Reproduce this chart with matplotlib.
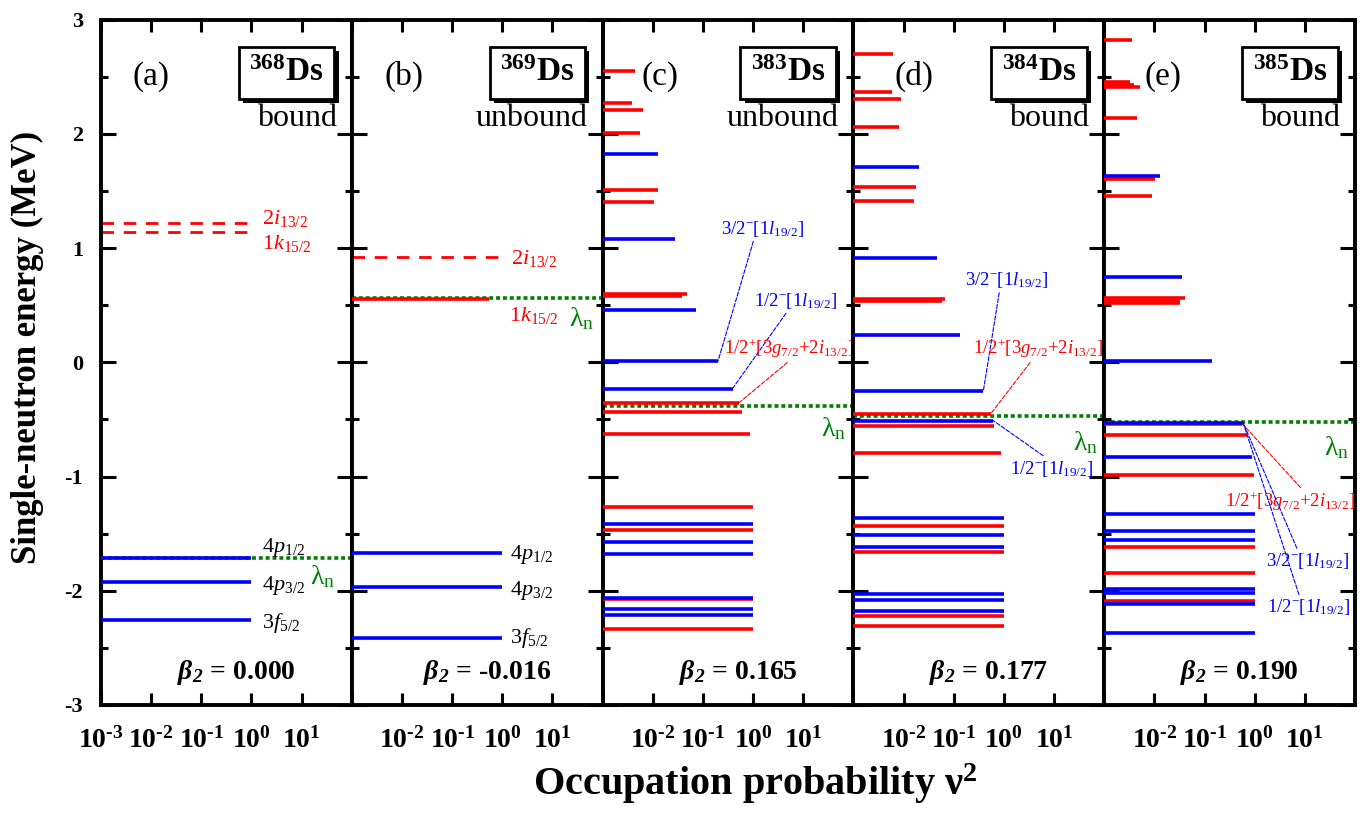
import numpy as np
import matplotlib
matplotlib.use('Agg')
import matplotlib.pyplot as plt
import matplotlib.patheffects as pe
from matplotlib.ticker import MultipleLocator, NullLocator

plt.rcParams['font.family'] = 'Liberation Serif'
plt.rcParams['mathtext.fontset'] = 'custom'
plt.rcParams['mathtext.rm'] = 'Liberation Serif'
plt.rcParams['mathtext.it'] = 'Liberation Serif:italic'
plt.rcParams['mathtext.bf'] = 'Liberation Serif:bold'
plt.rcParams['mathtext.bfit'] = 'Liberation Serif:bold:italic'

# panel info
panel_tags = ['(a)', '(b)', '(c)', '(d)', '(e)']
mass_nums = ['368', '369', '383', '384', '385']
status = ['bound', 'unbound', 'unbound', 'bound', 'bound']
beta2 = ['0.000', '-0.016', '0.165', '0.177', '0.190']
lambda_n = [-1.71, 0.56, -0.38, -0.47, -0.52]

# single-neutron levels: energy (MeV) and occupation v^2
# (a) 368Ds
a_dash_E = [1.22, 1.14]
a_dash_v2 = [1.0, 1.0]
a_red_E = []
a_red_v2 = []
a_blue_E = [-1.71, -1.92, -2.26]
a_blue_v2 = [1.0, 1.0, 1.0]
# (b) 369Ds
b_dash_E = [0.92]
b_dash_v2 = [1.0]
b_red_E = [0.55]
b_red_v2 = [0.55]
b_blue_E = [-1.67, -1.97, -2.41]
b_blue_v2 = [1.0, 1.0, 1.0]
# (c) 383Ds
c_red_E = [2.55, 2.265, 2.207, 2.003, 1.512, 1.40, 0.60, 0.58, -0.353, -0.438, -0.625,
           -1.267, -1.468, -2.075, -2.335]
c_red_v2 = [0.0044, 0.0039, 0.0065, 0.0055, 0.0128, 0.0108, 0.049, 0.039, 0.53, 0.61, 0.86,
            1.0, 1.0, 1.0, 1.0]
c_blue_E = [1.827, 1.08, 0.46, 0.01, -0.23, -1.418, -1.57, -1.68, -2.06, -2.16, -2.21]
c_blue_v2 = [0.0126, 0.0275, 0.074, 0.20, 0.39, 1.0, 1.0, 1.0, 1.0, 1.0, 1.0]
# (d) 384Ds
d_red_E = [2.70, 2.367, 2.30, 2.06, 1.535, 1.41, 0.55, 0.535, -0.45, -0.555, -0.79,
           -1.433, -1.664, -2.22, -2.31]
d_red_v2 = [0.0062, 0.0058, 0.009, 0.008, 0.018, 0.016, 0.066, 0.059, 0.55, 0.65, 0.89,
            1.0, 1.0, 1.0, 1.0]
d_blue_E = [1.71, 0.91, 0.24, -0.25, -0.51, -1.366, -1.515, -1.614, -2.03, -2.084, -2.175]
d_blue_v2 = [0.020, 0.047, 0.135, 0.39, 0.61, 1.0, 1.0, 1.0, 1.0, 1.0, 1.0]
# (e) 385Ds
e_red_E = [2.82, 2.45, 2.43, 2.41, 2.14, 1.605, 1.455, 0.56, 0.54, 0.52, -0.54, -0.64,
           -0.983, -1.614, -1.848, -2.09]
e_red_v2 = [0.0036, 0.0033, 0.0040, 0.0051, 0.0045, 0.0105, 0.009, 0.041, 0.033, 0.033,
            0.57, 0.71, 0.97, 1.0, 1.0, 1.0]
e_blue_E = [1.63, 0.75, 0.01, -0.53, -0.83, -1.33, -1.474, -1.559, -1.988, -2.02, -2.12, -2.37]
e_blue_v2 = [0.013, 0.035, 0.14, 0.59, 0.89, 1.0, 1.0, 1.0, 1.0, 1.0, 1.0, 1.0]

dash_sets = [(a_dash_E, a_dash_v2), (b_dash_E, b_dash_v2), ([], []), ([], []), ([], [])]
red_sets = [(a_red_E, a_red_v2), (b_red_E, b_red_v2), (c_red_E, c_red_v2),
            (d_red_E, d_red_v2), (e_red_E, e_red_v2)]
blue_sets = [(a_blue_E, a_blue_v2), (b_blue_E, b_blue_v2), (c_blue_E, c_blue_v2),
             (d_blue_E, d_blue_v2), (e_blue_E, e_blue_v2)]

# spherical labels for (a) and (b): panel, text, colour, x, y
sph_panel = [0, 0, 0, 0, 0, 1, 1, 1, 1, 1]
sph_text = [r'$2i_{13/2}$', r'$1k_{15/2}$', r'$4p_{1/2}$', r'$4p_{3/2}$', r'$3f_{5/2}$',
            r'$2i_{13/2}$', r'$1k_{15/2}$', r'$4p_{1/2}$', r'$4p_{3/2}$', r'$3f_{5/2}$']
sph_color = ['red', 'red', 'black', 'black', 'black', 'red', 'red', 'black', 'black', 'black']
sph_x = [1.6, 1.6, 1.6, 1.6, 1.6, 1.5, 1.35, 1.4, 1.4, 1.4]
sph_y = [1.26, 1.04, -1.62, -1.95, -2.28, 0.91, 0.41, -1.68, -2.0, -2.41]

# Nilsson labels with leader lines
NIL_P = r'$1/2^{+}[3g_{7/2}{+}2i_{13/2}]$'
NIL_3M = r'$3/2^{-}[1l_{19/2}]$'
NIL_1M = r'$1/2^{-}[1l_{19/2}]$'
ann_panel = [2, 2, 2, 3, 3, 3, 4, 4, 4]
ann_text = [NIL_3M, NIL_1M, NIL_P, NIL_3M, NIL_P, NIL_1M, NIL_P, NIL_3M, NIL_1M]
ann_color = ['blue', 'blue', 'red', 'blue', 'red', 'blue', 'red', 'blue', 'blue']
ann_E = [0.01, -0.23, -0.353, -0.25, -0.45, -0.51, -0.54, -0.53, -0.53]
ann_v2 = [0.20, 0.39, 0.53, 0.39, 0.55, 0.61, 0.57, 0.59, 0.59]
ann_x = [1.54, 7.0, 5.3, 1.12, 4.84, 8.8, 5.07, 11.6, 12.1]
ann_y = [1.17, 0.54, 0.12, 0.72, 0.12, -0.93, -1.22, -1.74, -2.145]
ann_rel = [(0.4, 0.0), (0.41, 0.0), (0.53, 0.1), (0.42, 0.0), (0.48, 0.2), (0.45, 1.0),
           (0.6, 1.0), (0.38, 1.0), (0.39, 1.0)]

lam_lab_x = [26.4, 38.0, 39.8, 43.0, 43.0]
lam_lab_y = [-1.88, 0.38, -0.58, -0.70, -0.75]
tag_x = [0.2, 0.21, 0.23, 0.24, 0.235]

HY = '\u2010'
xticks = [1e-3, 1e-2, 1e-1, 1e0, 1e1]
xlabels = [r'$\mathbf{10^{%s3}}$' % HY, r'$\mathbf{10^{%s2}}$' % HY, r'$\mathbf{10^{%s1}}$' % HY,
           r'$\mathbf{10^{0}}$', r'$\mathbf{10^{1}}$']

W, H = 1363, 823
fig = plt.figure(figsize=(W / 100, H / 100), dpi=100)
left, pw = 101, 250.8
top, bot = 19.5, 705

RED, BLUE, GREEN = '#ff0000', '#0000ff', '#008000'

axes = []
for i in range(5):
    ax = fig.add_axes([(left + i * pw) / W, 1 - bot / H, pw / W, (bot - top) / H])
    axes.append(ax)
    ax.set_xscale('log')
    ax.set_xlim(1e-3, 1e2)
    ax.set_ylim(-3, 3)

    # Fermi level
    ax.axhline(lambda_n[i], color=GREEN, ls=(0, (1.1, 0.8)), lw=2.6, zorder=1)

    dE, dv = dash_sets[i]
    if dE:
        ax.hlines(dE, 1e-3, dv, colors=RED, linestyles=(0, (4.5, 3.5)), lw=2.0, zorder=2)
    rE, rv = red_sets[i]
    if rE:
        ax.hlines(rE, 1e-3, rv, colors=RED, lw=2.6, zorder=3)
    bE, bv = blue_sets[i]
    ax.hlines(bE, 1e-3, bv, colors=BLUE, lw=2.6, zorder=3)

    ax.text(lam_lab_x[i], lam_lab_y[i], r'$\mathrm{\lambda_n}$', color=GREEN, fontsize=20,
            ha='center', va='center')

    ax.text(tag_x[i], 0.917, panel_tags[i], transform=ax.transAxes, fontsize=24,
            ha='center', va='center')
    t = ax.text(0.74, 0.922, r'$\mathbf{^{%s}Ds}$' % mass_nums[i], transform=ax.transAxes,
                fontsize=24, ha='center', va='center',
                bbox=dict(boxstyle='square,pad=0.32', fc='white', ec='black', lw=2.0))
    t.get_bbox_patch().set_path_effects([
        pe.SimplePatchShadow(offset=(3, -3), shadow_rgbFace='black', alpha=1.0),
        pe.Normal()])
    ax.text(0.94, 0.855, status[i], transform=ax.transAxes, fontsize=23,
            ha='right', va='center')
    ax.text(0.54, 0.048, r'$\mathbfit{\beta}_{\mathbfit{2}}$' + ' = ' + beta2[i],
            transform=ax.transAxes, fontsize=20, fontweight='bold', ha='center', va='center')

    # ticks
    ax.set_xticks(xticks)
    ax.set_xticklabels(xlabels if i == 0 else [''] + xlabels[1:])
    ax.xaxis.set_minor_locator(NullLocator())
    ax.yaxis.set_major_locator(MultipleLocator(1))
    ax.yaxis.set_minor_locator(MultipleLocator(0.5))
    ax.tick_params(axis='x', which='major', direction='in', top=True, bottom=True,
                   length=8.6, width=2.2, labelsize=20, pad=16)
    ax.tick_params(axis='y', which='major', direction='in', left=True, right=True,
                   length=10.8, width=2.2, labelsize=16, pad=13)
    ax.tick_params(axis='y', which='minor', direction='in', left=True, right=True,
                   length=5, width=2.2)
    if i == 0:
        ax.set_yticks([-3, -2, -1, 0, 1, 2, 3])
        ax.set_yticklabels(['-3', '-2', '-1', '0', '1', '2', '3'], fontweight='bold')
    else:
        ax.tick_params(axis='y', labelleft=False)
    for s in ax.spines.values():
        s.set_linewidth(2.8)

for j in range(len(sph_text)):
    axes[sph_panel[j]].text(sph_x[j], sph_y[j], sph_text[j], color=sph_color[j],
                            fontsize=16, ha='left', va='center')

for j in range(len(ann_text)):
    ax = axes[ann_panel[j]]
    ax.annotate(ann_text[j], xy=(ann_v2[j], ann_E[j]), xytext=(ann_x[j], ann_y[j]),
                color=ann_color[j], fontsize=13.5, ha='center', va='center',
                annotation_clip=False,
                arrowprops=dict(arrowstyle='-', color=ann_color[j], lw=0.8, ls='--',
                                shrinkA=0, shrinkB=0, relpos=ann_rel[j]))

fig.text(27 / W, 1 - 347 / H, 'Single-neutron energy (MeV)', rotation=90, fontsize=25,
         fontweight='bold', ha='center', va='center')
fig.text(755 / W, 1 - 784 / H, r'Occupation probability $\mathbf{\nu^2}$', fontsize=29,
         fontweight='bold', ha='center', va='center')

fig.savefig('out.png', dpi=100)
